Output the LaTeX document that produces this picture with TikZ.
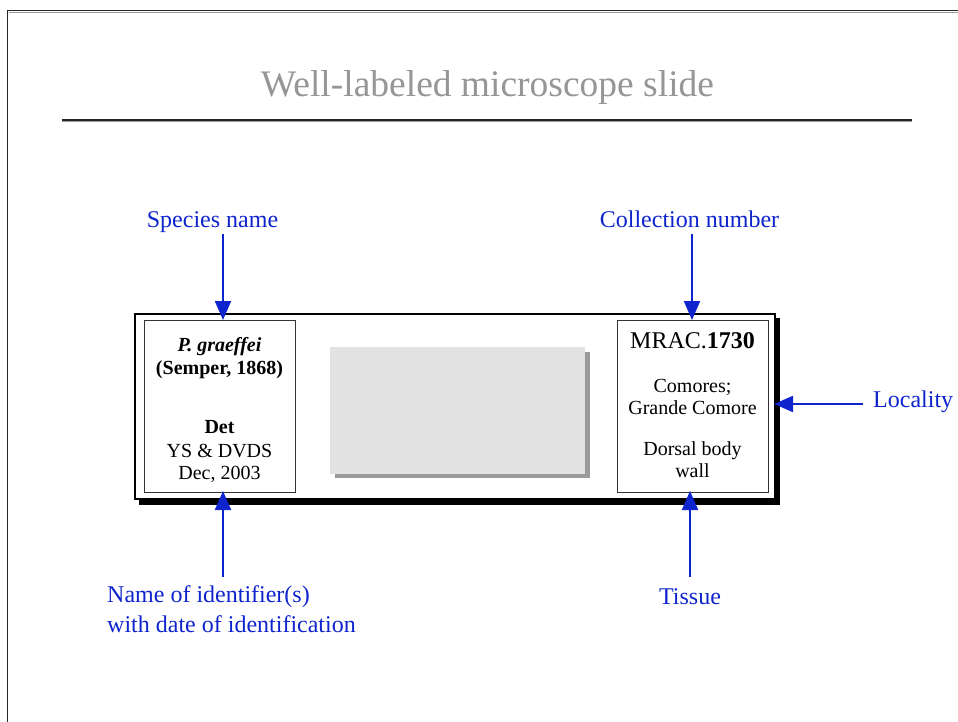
\documentclass[tikz,border=0pt]{standalone}
\usepackage{fontspec}
\setmainfont{Liberation Serif}
\usetikzlibrary{arrows.meta}
\definecolor{lblue}{RGB}{14,36,204}
\definecolor{titlegray}{RGB}{150,150,150}
\definecolor{panelgray}{RGB}{226,226,226}
\definecolor{shadowgray}{RGB}{155,155,155}
\tikzset{
  bluelabel/.style={text=lblue, font=\fontsize{24}{31}\selectfont, inner sep=0pt},
  slidetext/.style={font=\fontsize{20}{23}\selectfont, inner sep=0pt, anchor=base},
  arr/.style={draw=lblue, line width=2pt, -{Triangle[length=19pt,width=16pt]}},
  frame/.style={draw=black!85, line width=1.5pt},
}
\begin{document}
\begin{tikzpicture}[x=1pt,y=-1pt]
\useasboundingbox (0,0) rectangle (958,722);
% slide frame
\draw[frame] (7.5,722) -- (7.5,10.5) -- (958,10.5);
\draw[shadowgray, line width=0.8pt] (9,12) -- (958,12);
% title
\node[text=titlegray, font=\fontsize{37.5}{40}\selectfont, inner sep=0pt, anchor=base] (title) at (487.5,97) {Well-labeled microscope slide};
\draw[frame] (62,120) -- (912,120);
\draw[shadowgray, line width=0.8pt] (62,121.8) -- (912,121.8);
% microscope slide
\fill[black] (139,318) rectangle (780,505);
\node[draw=black, line width=2pt, fill=white, minimum width=640pt, minimum height=185pt, inner sep=0pt, anchor=north west] (slide) at (134,313) {};
% centre panel
\fill[shadowgray] (335,352) rectangle (590,478);
\node[fill=panelgray, minimum width=255pt, minimum height=127pt, inner sep=0pt, anchor=north west] (panel) at (330,347) {};
% left label
\node[draw=black!80, line width=0.8pt, minimum width=151pt, minimum height=172pt, inner sep=0pt, anchor=north west] (leftlab) at (144,319.5) {};
\node[slidetext, font=\fontsize{20}{23}\selectfont\bfseries\itshape] (sp) at (219.5,351) {P. graeffei};
\node[slidetext, font=\fontsize{20}{23}\selectfont\bfseries] (auth) at (219.5,374) {(Semper, 1868)};
\node[slidetext, font=\fontsize{20}{23}\selectfont\bfseries] (det) at (219.5,433) {Det};
\node[slidetext] (who) at (219.5,457) {YS \& DVDS};
\node[slidetext] (when) at (219.5,479) {Dec, 2003};
% right label
\node[draw=black!80, line width=0.8pt, minimum width=151pt, minimum height=172pt, inner sep=0pt, anchor=north west] (rightlab) at (617,319.5) {};
\node[slidetext, font=\fontsize{24}{28}\selectfont] (coll) at (692.5,348) {MRAC.\textbf{1730}};
\node[slidetext] (loc1) at (692.5,392) {Comores;};
\node[slidetext] (loc2) at (692.5,414) {Grande Comore};
\node[slidetext] (tis1) at (692.5,455) {Dorsal body};
\node[slidetext] (tis2) at (692.5,477) {wall};
% blue labels
\node[bluelabel, anchor=base] (species) at (212.5,227) {Species name};
\node[bluelabel, anchor=base] (collnum) at (689.5,227) {Collection number};
\node[bluelabel, anchor=base west] (locality) at (873,407) {Locality};
\node[bluelabel, anchor=base] (tissue) at (690,604) {Tissue};
\node[bluelabel, anchor=base west] (ident1) at (107,602) {Name of identifier(s)};
\node[bluelabel, anchor=base west] (ident2) at (107,632) {with date of identification};
% arrow end points
\coordinate (aSp0) at (223,234);
\coordinate (aSp1) at (223,320);
\coordinate (aCo0) at (692,234);
\coordinate (aCo1) at (692,320);
\coordinate (aLo0) at (863,404);
\coordinate (aLo1) at (774,404);
\coordinate (aId0) at (223,577);
\coordinate (aId1) at (223,491);
\coordinate (aTi0) at (690,577);
\coordinate (aTi1) at (690,491);
\draw[arr] (aSp0) -- (aSp1);
\draw[arr] (aCo0) -- (aCo1);
\draw[arr] (aLo0) -- (aLo1);
\draw[arr] (aId0) -- (aId1);
\draw[arr] (aTi0) -- (aTi1);
\end{tikzpicture}
\end{document}
